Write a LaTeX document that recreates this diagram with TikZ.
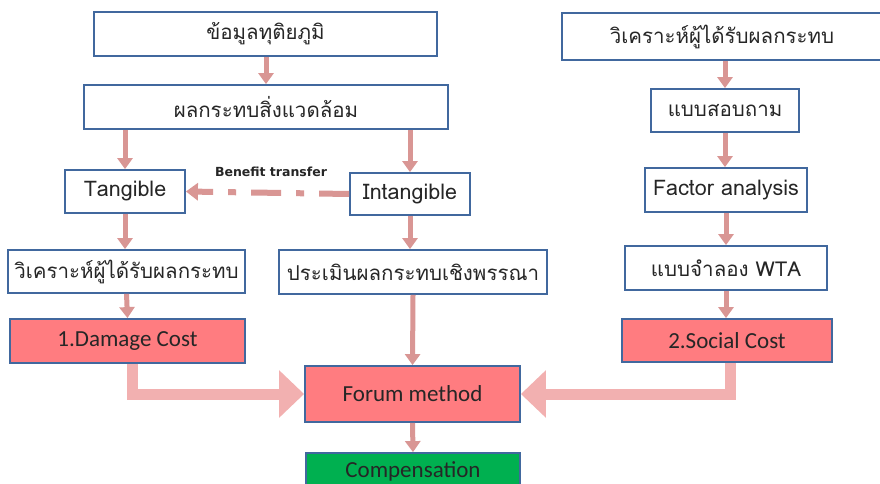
\documentclass[tikz,border=0pt]{standalone}
\usepackage{fontspec}
\setmainfont[Script=Thai]{Loma}
\newfontfamily\latinfont{Carlito}
\newfontfamily\labelfont{DejaVu Sans}
\usetikzlibrary{arrows.meta}
\definecolor{boxline}{HTML}{41689E}
\definecolor{pinkfill}{HTML}{FF7C80}
\definecolor{greenfill}{HTML}{00B050}
\definecolor{arrowpink}{HTML}{D99694}
\definecolor{blockpink}{HTML}{F2B0B0}
\tikzset{
  box/.style={draw=boxline, line width=1.8pt, fill=white, inner sep=0pt, font=\fontsize{21.5}{24}\selectfont, text=black!85},
  thaibox/.style={box, font=\fontsize{20.5}{24}\selectfont},
  pinkbox/.style={box, fill=pinkfill, font=\latinfont\fontsize{23}{26}\selectfont},
  greenbox/.style={box, fill=greenfill, font=\latinfont\fontsize{23}{26}\selectfont},
  flow/.style={draw=arrowpink, line width=5pt, -{Triangle[width=15pt,length=11pt]}},
  blockflow/.style={draw=blockpink, line width=11pt, -{Triangle[width=46pt,length=25pt]}},
  dashflow/.style={draw=arrowpink, line width=6pt, dash pattern=on 30pt off 15pt on 8pt off 15pt, -{Triangle[width=17pt,length=12pt]}},
}
\begin{document}
\begin{tikzpicture}[x=1pt,y=-1pt]
\useasboundingbox[fill=white] (0,0) rectangle (880,484);
% nodes
\node[thaibox, minimum width=343pt, minimum height=44pt] (top) at (265.5,34) {ข้อมูลทุติยภูมิ};
\node[thaibox, minimum width=364pt, minimum height=44pt] (env) at (266,107) {ผลกระทบสิ่งแวดล้อม};
\node[thaibox, minimum width=320pt, minimum height=47pt] (rtop) at (722,36.5) {วิเคราะห์ผู้ได้รับผลกระทบ};
\node[thaibox, minimum width=148pt, minimum height=43pt] (sv) at (725,110.5) {แบบสอบถาม};
\node[box, minimum width=120pt, minimum height=43pt] (tang) at (125,191.5) {Tangible};
\node[box, minimum width=120pt, minimum height=42pt] (intang) at (410,194) {Intangible};
\node[box, minimum width=162pt, minimum height=44pt] (fa) at (726,190) {Factor analysis};
\node[thaibox, minimum width=237pt, minimum height=43pt] (lan) at (126.5,271.5) {วิเคราะห์ผู้ได้รับผลกระทบ};
\node[thaibox, minimum width=268pt, minimum height=44pt] (desc) at (413,272) {ประเมินผลกระทบเชิงพรรณา};
\node[thaibox, minimum width=202pt, minimum height=44pt] (wta) at (726,268) {แบบจำลอง WTA};
\node[pinkbox, minimum width=235pt, minimum height=44pt] (dmg) at (127.5,341) {1.Damage Cost};
\node[pinkbox, minimum width=210pt, minimum height=43pt] (soc) at (727,340.5) {2.Social Cost};
\node[pinkbox, minimum width=215pt, minimum height=56pt] (forum) at (412.5,394) {Forum method};
\node[greenbox, minimum width=214pt, minimum height=36pt] (comp) at (413,471) {Compensation};
\node[font=\labelfont\bfseries\fontsize{12.5}{14}\selectfont, text=black!85] (bt) at (271,172) {Benefit transfer};
% connectors
\draw[flow] (top.south -| 266,0) -- (env.north -| 266,0);
\draw[flow] (env.south -| tang.north) -- (tang.north);
\draw[flow] (env.south -| intang.north) -- (intang.north);
\draw[flow] (tang.south) -- (tang.south |- lan.north);
\draw[flow] (intang.south) -- (intang.south |- desc.north);
\draw[flow] (lan.south) -- (dmg.north);
\draw[flow] (desc.south) -- (forum.north);
\draw[flow] (forum.south) -- (comp.north);
\draw[flow] (sv.north |- rtop.south) -- (sv.north);
\draw[flow] (sv.south) -- (sv.south |- fa.north);
\draw[flow] (fa.south) -- (wta.north);
\draw[flow] (wta.south) -- (wta.south |- soc.north);
\draw[dashflow] (intang.west) -- (tang.east);
\draw[blockflow] ([xshift=5pt]dmg.south) |- (forum.west);
\draw[blockflow] ([xshift=3pt]soc.south) |- (forum.east);
\end{tikzpicture}
\end{document}
